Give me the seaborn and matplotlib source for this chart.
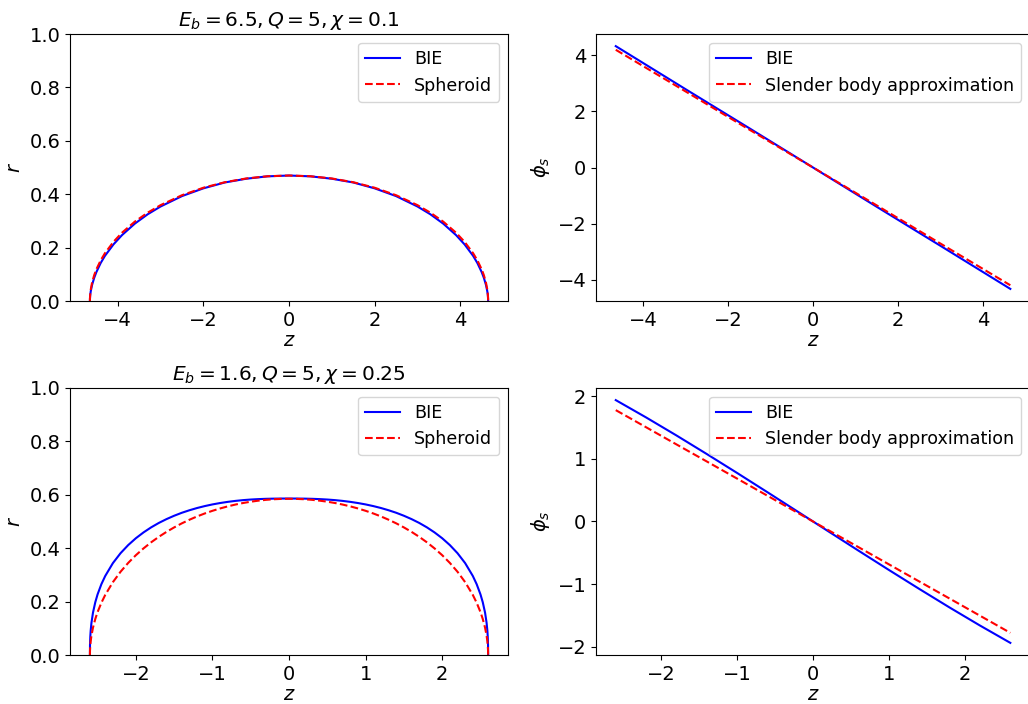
import seaborn as sns
import matplotlib
matplotlib.use('Agg')
import matplotlib.pyplot as plt

# ---- top row: E_b = 6.5, Q = 5, chi = 0.1 ----
z_top = [-4.65, -4.649, -4.645, -4.64, -4.63, -4.6, -4.55, -4.5, -4.4, -4.3, -4.1, -3.9, -3.6, -3.3,
         -3.0, -2.5, -2.0, -1.5, -1.0, -0.5, 0.0, 0.5, 1.0, 1.5, 2.0, 2.5, 3.0,
         3.3, 3.6, 3.9, 4.1, 4.3, 4.4, 4.5, 4.55, 4.6, 4.63, 4.64, 4.645, 4.649, 4.65]
r_bie_top = [0.0, 0.008, 0.018, 0.026, 0.037, 0.060, 0.087, 0.108, 0.142, 0.169, 0.212, 0.247, 0.290, 0.325,
             0.354, 0.393, 0.422, 0.444, 0.458, 0.467, 0.470, 0.467, 0.458, 0.444, 0.422, 0.393, 0.354,
             0.325, 0.290, 0.247, 0.212, 0.169, 0.142, 0.108, 0.087, 0.060, 0.037, 0.026, 0.018, 0.008, 0.0]
r_sph_top = [0.0, 0.0097, 0.0218, 0.0308, 0.0435, 0.0687, 0.0970, 0.1184, 0.1520, 0.1789, 0.2217, 0.2560, 0.2975, 0.3311,
             0.3591, 0.3963, 0.4243, 0.4449, 0.4590, 0.4673, 0.470, 0.4673, 0.4590, 0.4449, 0.4243, 0.3963, 0.3591,
             0.3311, 0.2975, 0.2560, 0.2217, 0.1789, 0.1520, 0.1184, 0.0970, 0.0687, 0.0435, 0.0308, 0.0218, 0.0097, 0.0]

zl_top = [-4.65, -3.0, -1.5, 0.0, 1.5, 3.0, 4.65]
phi_bie_top = [4.33, 2.79, 1.40, 0.0, -1.40, -2.79, -4.33]
phi_sb_top = [4.20, 2.71, 1.35, 0.0, -1.35, -2.71, -4.20]

# ---- bottom row: E_b = 1.6, Q = 5, chi = 0.25 ----
z_bot = [-2.6, -2.599, -2.595, -2.59, -2.58, -2.56, -2.53, -2.5, -2.45, -2.4, -2.3, -2.2, -2.1, -2.0,
         -1.9, -1.8, -1.7, -1.6, -1.5, -1.4, -1.3, -1.2, -1.1, -1.0, -0.9, -0.8, -0.7, -0.6,
         -0.5, -0.4, -0.3, -0.2, -0.1, 0.0, 0.1, 0.2, 0.3, 0.4, 0.5,
         0.6, 0.7, 0.8, 0.9, 1.0, 1.1, 1.2, 1.3, 1.4, 1.5, 1.6, 1.7, 1.8, 1.9,
         2.0, 2.1, 2.2, 2.3, 2.4, 2.45, 2.5, 2.53, 2.56, 2.58, 2.59, 2.595, 2.599, 2.6]
r_bie_bot = [0.0, 0.0364, 0.0692, 0.0913, 0.1204, 0.1585, 0.1975, 0.2270, 0.2654, 0.2960, 0.3441, 0.3813, 0.4117, 0.4373,
             0.4591, 0.4781, 0.4946, 0.5089, 0.5215, 0.5326, 0.5421, 0.5505, 0.5577, 0.5639, 0.5691, 0.5735, 0.5771, 0.5800,
             0.5822, 0.5838, 0.5849, 0.5856, 0.5859, 0.5860, 0.5859, 0.5856, 0.5849, 0.5838, 0.5822,
             0.5800, 0.5771, 0.5735, 0.5691, 0.5639, 0.5577, 0.5505, 0.5421, 0.5326, 0.5215, 0.5089, 0.4946, 0.4781, 0.4591,
             0.4373, 0.4117, 0.3813, 0.3441, 0.2960, 0.2654, 0.2270, 0.1975, 0.1585, 0.1204, 0.0913, 0.0692, 0.0364, 0.0]
r_sph_bot = [0.0, 0.0162, 0.0363, 0.0513, 0.0724, 0.1022, 0.1348, 0.1607, 0.1958, 0.2250, 0.2728, 0.3118, 0.3449, 0.3738,
             0.3993, 0.4221, 0.4426, 0.4611, 0.4778, 0.4930, 0.5066, 0.5190, 0.5301, 0.5400, 0.5488, 0.5566, 0.5634, 0.5692,
             0.5741, 0.5780, 0.5811, 0.5833, 0.5846, 0.5850, 0.5846, 0.5833, 0.5811, 0.5780, 0.5741,
             0.5692, 0.5634, 0.5566, 0.5488, 0.5400, 0.5301, 0.5190, 0.5066, 0.4930, 0.4778, 0.4611, 0.4426, 0.4221, 0.3993,
             0.3738, 0.3449, 0.3118, 0.2728, 0.2250, 0.1958, 0.1607, 0.1348, 0.1022, 0.0724, 0.0513, 0.0363, 0.0162, 0.0]

zl_bot = [-2.6, -2.2, -1.8, -1.4, -1.0, -0.6, -0.2, 0.0, 0.2, 0.6, 1.0, 1.4, 1.8, 2.2, 2.6]
phi_bie_bot = [1.94, 1.663, 1.375, 1.078, 0.775, 0.467, 0.156, 0.0, -0.156, -0.467, -0.775, -1.078, -1.375, -1.663, -1.94]
phi_sb_bot = [1.78, 1.506, 1.232, 0.959, 0.685, 0.411, 0.137, 0.0, -0.137, -0.411, -0.685, -0.959, -1.232, -1.506, -1.78]

titles = [r'$E_b = 6.5, Q = 5, \chi = 0.1$', r'$E_b = 1.6, Q = 5, \chi = 0.25$']

fig, axes = plt.subplots(2, 2, figsize=(10.28, 7.04), dpi=100)

# manual layout to match the reference
axes[0, 0].set_position([0.0681, 0.5724, 0.4261, 0.3793])
axes[0, 1].set_position([0.5798, 0.5724, 0.4222, 0.3793])
axes[1, 0].set_position([0.0681, 0.0696, 0.4261, 0.3793])
axes[1, 1].set_position([0.5798, 0.0696, 0.4222, 0.3793])

shapes = [(z_top, r_bie_top, r_sph_top), (z_bot, r_bie_bot, r_sph_bot)]
phis = [(zl_top, phi_bie_top, phi_sb_top), (zl_bot, phi_bie_bot, phi_sb_bot)]

for i in range(2):
    ax = axes[i, 0]
    z, rb, rs = shapes[i]
    sns.lineplot(x=z, y=rb, sort=False, estimator=None, color='blue', label='BIE', ax=ax)
    sns.lineplot(x=z, y=rs, sort=False, estimator=None, color='red', linestyle='--', label='Spheroid', ax=ax)
    ax.set_ylim(0, 1)
    ax.set_title(titles[i], fontsize=14.5)
    ax.set_xlabel('$z$', fontsize=14, labelpad=1)
    ax.set_ylabel('$r$', fontsize=14)
    ax.legend(loc='upper right', fontsize=12.6)
    ax.tick_params(labelsize=14)

    ax = axes[i, 1]
    z, pb, ps = phis[i]
    sns.lineplot(x=z, y=pb, sort=False, estimator=None, color='blue', label='BIE', ax=ax)
    sns.lineplot(x=z, y=ps, sort=False, estimator=None, color='red', linestyle='--',
                 label='Slender body approximation', ax=ax)
    ax.set_xlabel('$z$', fontsize=14, labelpad=1)
    ax.set_ylabel(r'$\phi_s$', fontsize=14)
    ax.legend(loc='upper right', fontsize=12.6)
    ax.tick_params(labelsize=14)

fig.savefig('out.png', dpi=100)
